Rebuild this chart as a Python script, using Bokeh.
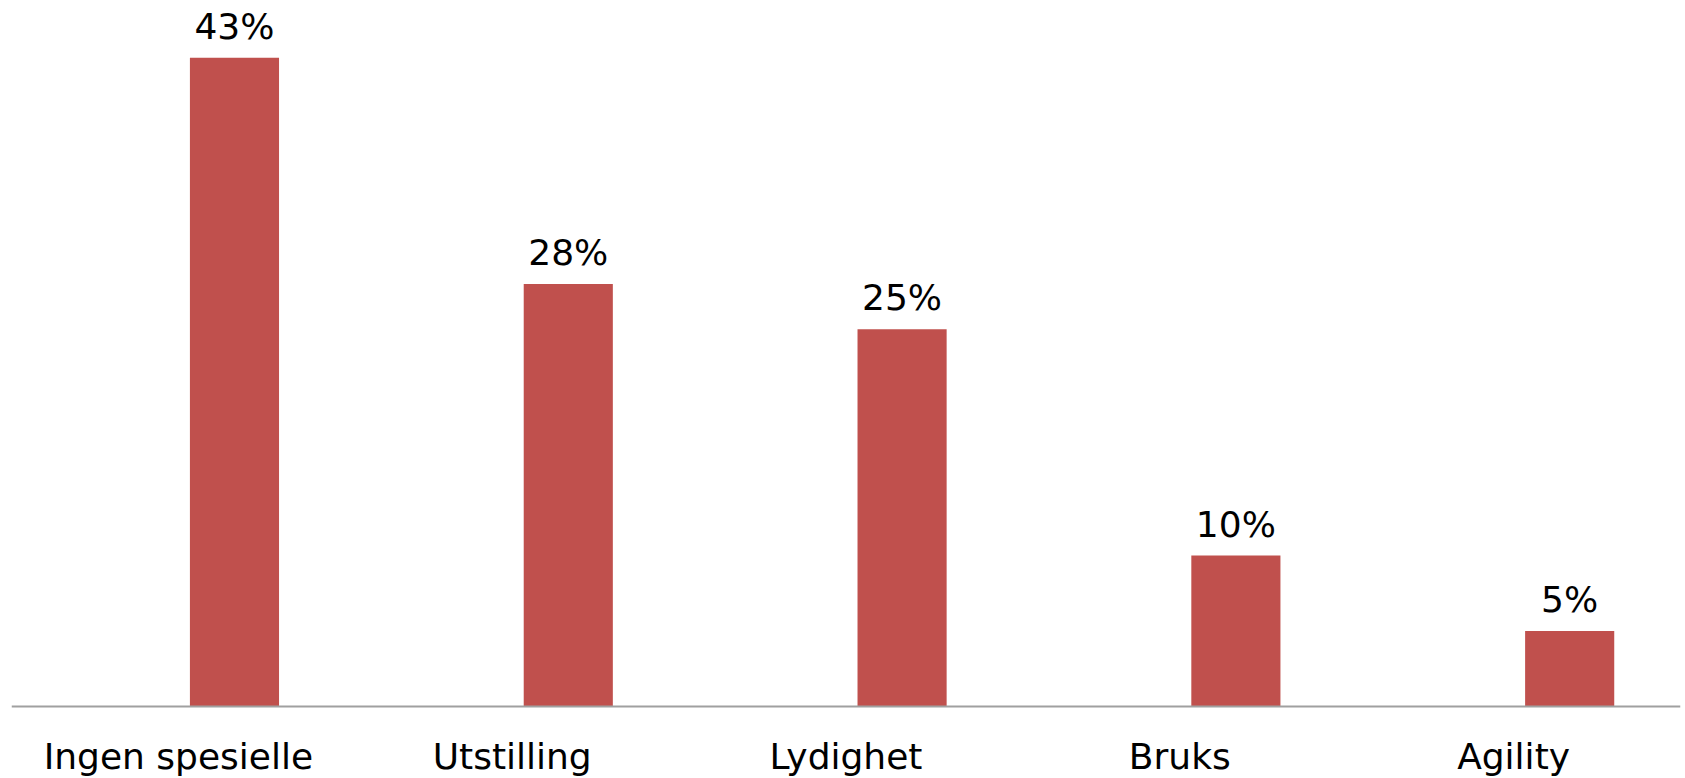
from bokeh.plotting import figure
from bokeh.models import ColumnDataSource, Range1d, LabelSet, Span
from bokeh.transform import dodge
from bokeh.core.properties import value
from bokeh.embed import file_html
from bokeh.resources import INLINE

categories = ["Ingen spesielle", "Utstilling", "Lydighet", "Bruks", "Agility"]
values = [43, 28, 25, 10, 5]
value_labels = [f"{v}%" for v in values]

FONT = "DejaVu Sans"
BAR_COLOR = "#C0504D"
AXIS_COLOR = "#A0A0A0"

src = ColumnDataSource(dict(cat=categories, val=values, lab=value_labels,
                            zero=[0] * len(categories)))

W, H = 1685, 778
PX_PER_UNIT = 15.09
AXIS_Y = 706  # pixel row of the baseline inside the figure

p = figure(
    x_range=categories,
    y_range=Range1d(-(H - AXIS_Y) / PX_PER_UNIT, AXIS_Y / PX_PER_UNIT),
    width=W,
    height=H,
    output_backend="svg",
    toolbar_location=None,
    min_border_left=11,
    min_border_right=5,
    min_border_top=0,
    min_border_bottom=0,
)

offset = 0.168
p.vbar(x=dodge("cat", offset, range=p.x_range), top="val", bottom=0, width=0.267,
       source=src, fill_color=BAR_COLOR, line_color=None)

# baseline (category axis line)
p.add_layout(Span(location=0, dimension="width", line_color=AXIS_COLOR, line_width=2))

# value labels above bars
p.add_layout(LabelSet(x=dodge("cat", offset, range=p.x_range), y="val", text="lab",
                      source=src, text_align="center", text_baseline="alphabetic",
                      y_offset=19, text_font=value(FONT), text_font_size=value("36px"),
                      text_color="#000000"))

# category labels under the baseline
p.add_layout(LabelSet(x="cat", y="zero", text="cat", source=src,
                      text_align="center", text_baseline="alphabetic",
                      y_offset=-62, text_font=value(FONT), text_font_size=value("36px"),
                      text_color="#000000"))

p.xgrid.grid_line_color = None
p.ygrid.grid_line_color = None
p.xaxis.visible = False
p.yaxis.visible = False
p.outline_line_color = None

open("out.html", "w").write(file_html(p, INLINE))
